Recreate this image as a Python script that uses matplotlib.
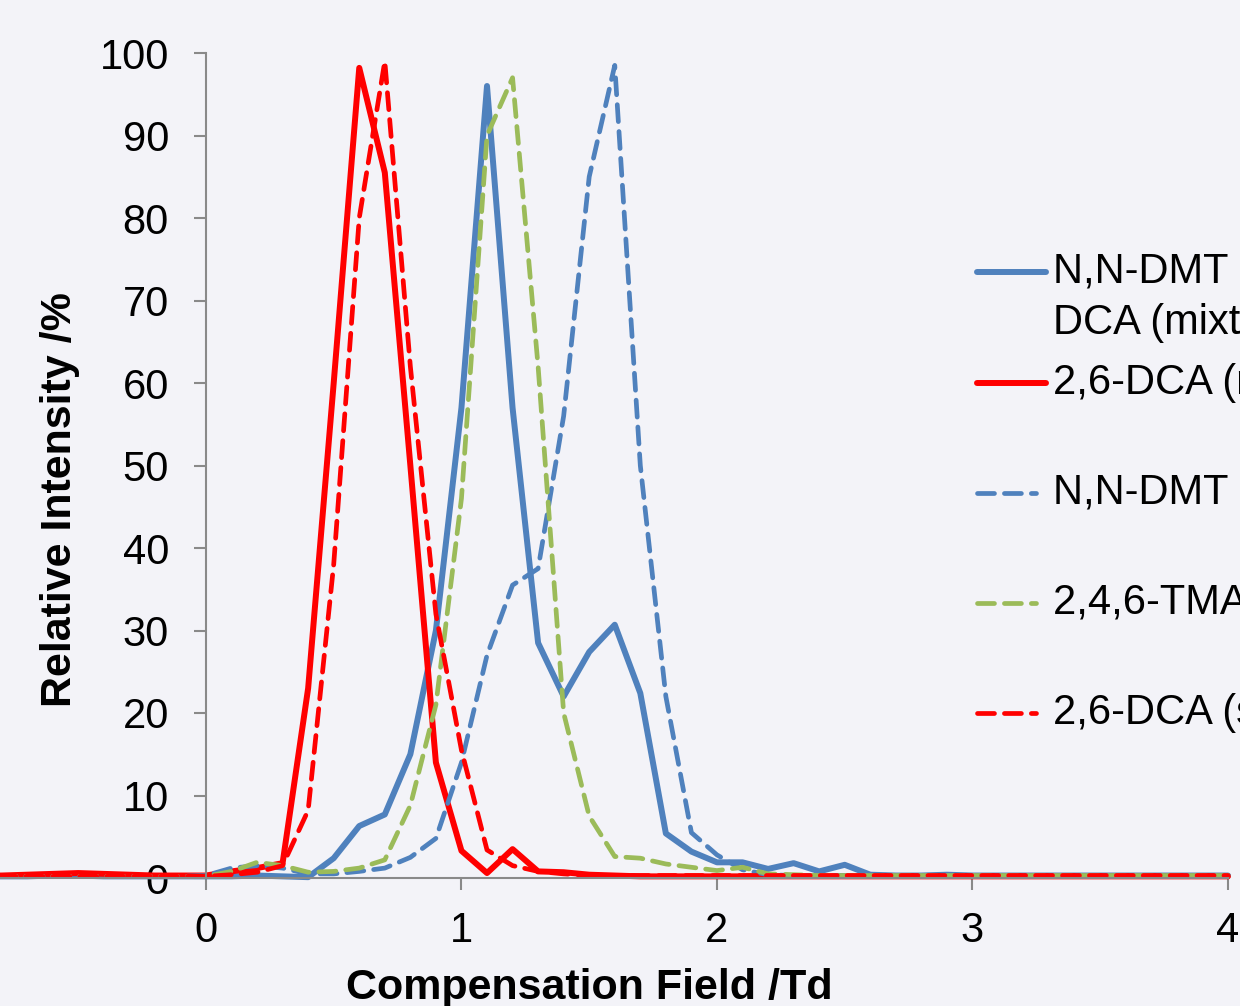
import numpy as np
import matplotlib
matplotlib.use("Agg")
import matplotlib.pyplot as plt
from matplotlib.lines import Line2D

plt.rcParams["font.family"] = ["Liberation Sans", "DejaVu Sans"]

# Compensation field (Td), 0.1 Td steps from -1.0 to 4.0
cf = np.round(np.arange(-10, 41) / 10.0, 1)

# N,N-DMT + 2,6-DCA mixture, N,N-DMT channel (solid blue)
dmt_mix = [0.2, 0.2, 0.2, 0.2, 0.3, 0.3, 0.2, 0.2, 0.2, 0.2,
           0.2, 0.2, 0.3, 0.2, 0.1, 2.4, 6.3, 7.7, 15, 30,
           57, 96, 57, 28.5, 22, 27.4, 30.7, 22.4, 5.4, 3.2,
           1.9, 1.9, 1.1, 1.8, 0.8, 1.6, 0.4, 0.3, 0.3, 0.4,
           0.3, 0.3, 0.3, 0.3, 0.3, 0.3, 0.3, 0.3, 0.3, 0.3, 0.3]
# 2,6-DCA in the mixture (solid red)
dca_mix = [0.3, 0.3, 0.3, 0.4, 0.5, 0.6, 0.5, 0.4, 0.3, 0.3,
           0.3, 0.8, 1.2, 1.8, 23, 60, 98.2, 85.5, 50, 14,
           3.3, 0.6, 3.5, 0.8, 0.7, 0.4, 0.3, 0.2, 0.2, 0.2,
           0.2, 0.2, 0.2, 0.2, 0.2, 0.2, 0.2, 0.2, 0.2, 0.2,
           0.2, 0.2, 0.2, 0.2, 0.2, 0.2, 0.2, 0.2, 0.2, 0.2, 0.2]
# single compounds (dashed)
dmt_single = [0.2, 0.2, 0.2, 0.2, 0.2, 0.2, 0.2, 0.2, 0.2, 0.2,
              0.3, 1.2, 1.5, 1.2, 0.5, 0.5, 0.8, 1.2, 2.5, 4.8,
              14, 27, 35.5, 37.5, 56, 85, 98.5, 50, 22, 5.5,
              2.8, 1.0, 0.4, 0.3, 0.3, 0.3, 0.3, 0.3, 0.3, 0.3,
              0.3, 0.3, 0.3, 0.3, 0.3, 0.3, 0.3, 0.3, 0.3, 0.3, 0.3]
tma_single = [0.2, 0.2, 0.2, 0.2, 0.2, 0.2, 0.2, 0.2, 0.2, 0.2,
              0.2, 0.8, 1.9, 1.5, 0.7, 0.8, 1.2, 2.2, 8.8, 21,
              46, 90, 97, 62, 20, 7.5, 2.6, 2.4, 1.7, 1.3,
              0.9, 1.3, 0.5, 0.4, 0.3, 0.3, 0.3, 0.3, 0.3, 0.3,
              0.3, 0.3, 0.3, 0.3, 0.3, 0.3, 0.3, 0.3, 0.3, 0.3, 0.3]
dca_single = [0.2, 0.2, 0.2, 0.2, 0.2, 0.2, 0.2, 0.2, 0.2, 0.2,
              0.2, 0.4, 0.7, 1.5, 8.2, 38, 80, 99, 62, 32,
              15.5, 3.4, 1.5, 0.8, 0.5, 0.3, 0.3, 0.3, 0.3, 0.3,
              0.3, 0.3, 0.3, 0.3, 0.3, 0.3, 0.3, 0.3, 0.3, 0.3,
              0.3, 0.3, 0.3, 0.3, 0.3, 0.3, 0.3, 0.3, 0.3, 0.3, 0.3]

labels = ["N,N-DMT + 2,6-\nDCA (mixture)", "2,6-DCA (mixture)",
          "N,N-DMT (single)", "2,4,6-TMA (single)", "2,6-DCA (single)"]
BLUE, RED, GREEN = "#4f81bd", "#ff0000", "#9bbb59"
series = [
    (dmt_mix, BLUE, "-"),
    (dca_mix, RED, "-"),
    (dmt_single, BLUE, "--"),
    (tma_single, GREEN, "--"),
    (dca_single, RED, "--"),
]
GREY = "#898989"
BG = "#f3f3f8"
W, H = 1240, 1006
LW_SOLID, LW_DASH = 4.3, 3.4
DASHES = (3.6, 2.1)

fig = plt.figure(figsize=(W / 100, H / 100), dpi=100, facecolor=BG)
ax = fig.add_axes([0, (H - 878) / H, 1, (878 - 53) / H])
ax.set_facecolor(BG)

for ys, col, ls in series:
    if ls == "-":
        ax.plot(cf, ys, color=col, lw=LW_SOLID, solid_joinstyle="round",
                solid_capstyle="round", clip_on=False)
    else:
        ax.plot(cf, ys, color=col, lw=LW_DASH, dashes=DASHES,
                dash_capstyle="round", clip_on=False)

ax.set_xlim(-0.806, 4.047)
ax.set_ylim(0, 100)
for s in ["top", "right"]:
    ax.spines[s].set_visible(False)
ax.spines["left"].set_position(("data", 0))
ax.spines["left"].set_bounds(0, 100)
ax.spines["bottom"].set_bounds(-1, 4)
for s in ["left", "bottom"]:
    ax.spines[s].set_color(GREY)
    ax.spines[s].set_linewidth(1.5)
ax.set_xticks([0, 1, 2, 3, 4])
ax.set_yticks(np.arange(0, 101, 10))
ax.tick_params(axis="both", direction="out", length=8.6, width=1.5,
               color=GREY, labelsize=30, labelcolor="black")
ax.tick_params(axis="y", pad=18)
ax.tick_params(axis="x", pad=15)

fig.text(589 / W, 1 - 999 / H, "Compensation Field /Td", fontsize=31,
         fontweight="bold", ha="center", va="baseline")
fig.text(60 / W, 1 - 500 / H, "Relative Intensity /%", fontsize=31,
         fontweight="bold", ha="center", va="center", rotation=90)

# legend drawn by hand so the two-line entry keeps its handle on line one
leg_y = [272, 383, 493, 603, 713]
for (ys, col, ls), lab, yp in zip(series, labels, leg_y):
    yf = 1 - yp / H
    if ls == "-":
        fig.add_artist(Line2D([977 / W, 1046 / W], [yf, yf], color=col,
                              lw=LW_SOLID, solid_capstyle="round"))
    else:
        fig.add_artist(Line2D([977 / W, 1036 / W], [yf, yf], color=col,
                              lw=LW_DASH, dashes=DASHES, dash_capstyle="round"))
    for k, line in enumerate(lab.split("\n")):
        fig.text(1053 / W, 1 - (yp + 51 * k) / H, line, fontsize=30,
                 ha="left", va="center")

fig.savefig("out.png", dpi=100, facecolor=BG)
